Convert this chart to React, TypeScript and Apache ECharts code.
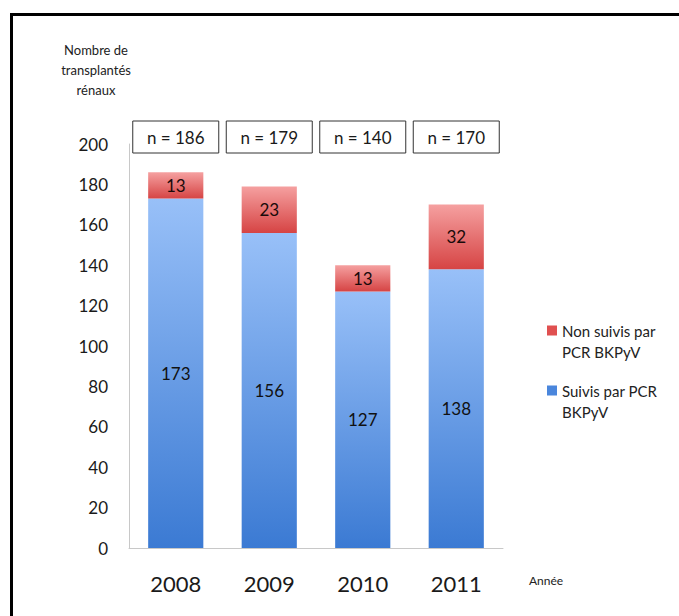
import React, { useEffect, useRef } from "react";
import * as echarts from "echarts";

const years = ["2008", "2009", "2010", "2011"];
const suivis = [173, 156, 127, 138];
const nonSuivis = [13, 23, 13, 32];
const totals = [186, 179, 140, 170];
const yTicks = { min: 0, max: 200, interval: 20 };

const FONT = "Lato, 'Open Sans', sans-serif";

export default function App() {
  const ref = useRef<HTMLDivElement>(null);
  useEffect(() => {
    document.body.style.margin = "0";
    const chart = echarts.init(ref.current!, null, { renderer: "svg" });
    const blue = new echarts.graphic.LinearGradient(0, 0, 0, 1, [
      { offset: 0, color: "#98c0f8" },
      { offset: 1, color: "#3b7ad3" },
    ]);
    const red = new echarts.graphic.LinearGradient(0, 0, 0, 1, [
      { offset: 0, color: "#f5a0a0" },
      { offset: 1, color: "#d64444" },
    ]);
    const iconPath =
      "path://M0,0h0.1v0.1h-0.1Z M0,5.5h10v10h-10Z M0,41.9h0.1v0.1h-0.1Z";
    chart.setOption({
      animation: false,
      textStyle: { fontFamily: FONT },
      grid: { left: 129, right: 176, top: 144, bottom: 68 },
      legend: {
        orient: "vertical",
        left: 542,
        top: 315,
        itemWidth: 10,
        itemHeight: 42,
        itemGap: 18,
        data: [
          { name: "Non suivis par\nPCR BKPyV", icon: iconPath, itemStyle: { color: "#e05050" } },
          { name: "Suivis par PCR\nBKPyV", icon: iconPath, itemStyle: { color: "#4a86dc" } },
        ],
        textStyle: { fontSize: 15, lineHeight: 21, color: "#222", fontFamily: FONT },
      },
      xAxis: {
        type: "category",
        data: years,
        axisTick: { show: false },
        axisLine: { lineStyle: { color: "#c8c8c8", width: 1 } },
        axisLabel: { fontSize: 22, color: "#1a1a1a", margin: 24, fontFamily: FONT },
      },
      yAxis: {
        type: "value",
        min: yTicks.min,
        max: yTicks.max,
        interval: yTicks.interval,
        splitLine: { show: false },
        axisTick: { show: false },
        axisLine: { show: true, lineStyle: { color: "#c8c8c8", width: 1 } },
        axisLabel: { fontSize: 17, color: "#1a1a1a", margin: 21, fontFamily: FONT },
      },
      series: [
        {
          name: "Suivis par PCR\nBKPyV",
          type: "bar",
          stack: "total",
          barWidth: "59%",
          data: suivis,
          itemStyle: { color: blue },
          label: { show: true, position: "inside", fontSize: 17, color: "#111", fontFamily: FONT },
        },
        {
          name: "Non suivis par\nPCR BKPyV",
          type: "bar",
          stack: "total",
          data: nonSuivis,
          itemStyle: { color: red },
          label: { show: true, position: "inside", fontSize: 17, color: "#1a0a0a", fontFamily: FONT },
        },
        {
          type: "custom",
          data: totals.map((t, i) => [i, t]),
          clip: false,
          silent: true,
          renderItem: (params: any, api: any) => {
            const p = api.coord([api.value(0), yTicks.max]);
            const x = p[0];
            const top = p[1] - 23;
            const w = 86;
            const h = 32;
            return {
              type: "group",
              children: [
                {
                  type: "rect",
                  shape: { x: x - w / 2, y: top, width: w, height: h },
                  style: { fill: "#fff", stroke: "#333", lineWidth: 1 },
                },
                {
                  type: "text",
                  style: {
                    x: x,
                    y: top + h / 2,
                    text: "n = " + api.value(1),
                    align: "center",
                    verticalAlign: "middle",
                    fontSize: 17,
                    fill: "#1a1a1a",
                    fontFamily: FONT,
                  },
                },
              ],
            };
          },
        },
      ],
      graphic: [
        { type: "line", shape: { x1: 10, y1: 14.5, x2: 679, y2: 14.5 }, style: { stroke: "#000", lineWidth: 3 } },
        { type: "line", shape: { x1: 11.5, y1: 13, x2: 11.5, y2: 616 }, style: { stroke: "#000", lineWidth: 3 } },
        {
          type: "text",
          x: 96,
          y: 40,
          style: {
            text: "Nombre de\ntransplantés\nrénaux",
            align: "center",
            fontSize: 13,
            lineHeight: 20,
            fill: "#222",
            fontFamily: FONT,
          },
        },
        {
          type: "text",
          x: 529,
          y: 574,
          style: { text: "Année", fontSize: 12, fill: "#222", fontFamily: FONT },
        },
      ],
    });
    return () => chart.dispose();
  }, []);
  return <div ref={ref} style={{ width: 679, height: 616 }} />;
}
